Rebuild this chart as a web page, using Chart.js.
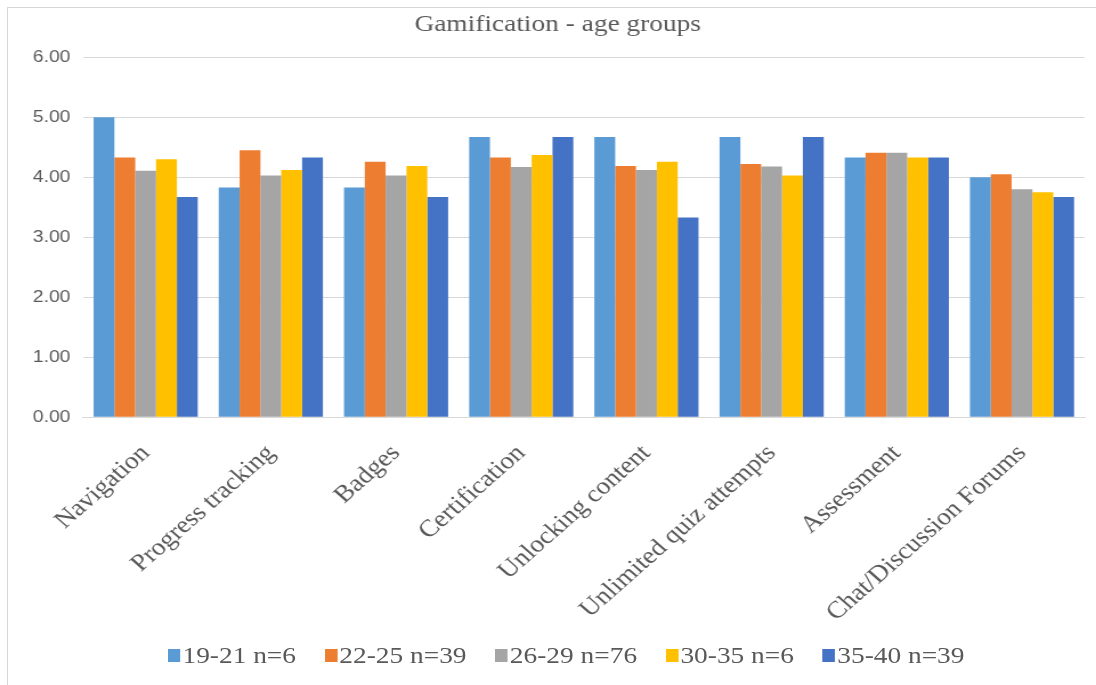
<!DOCTYPE html>
<html>
<head>
<meta charset="utf-8">
<script src="https://cdn.jsdelivr.net/npm/chart.js@4/dist/chart.umd.min.js"></script>
<style>
  html, body { margin: 0; padding: 0; background: #ffffff; }
  body { width: 1096px; height: 685px; overflow: hidden; position: relative; }
  #frame {
    position: absolute; left: 7px; top: 7px; width: 1200px; height: 800px;
    border-top: 1px solid #d6d6d6; border-left: 1px solid #d6d6d6;
  }
  #stage {
    position: absolute; left: 0; top: 0; width: 961px; height: 685px;
    transform: scaleX(1.1405); transform-origin: 0 0;
  }
  #chart { display: block; }
  #legend {
    position: absolute; left: 147px; top: 641px; height: 28px;
    display: flex; align-items: center; gap: 25px;
    font-family: "Liberation Serif", "Times New Roman", serif; font-size: 24px; color: #595959;
    white-space: nowrap;
  }
  #legend .item { display: flex; align-items: center; }
  #legend .box { width: 11px; height: 13px; margin-right: 2px; }
</style>
</head>
<body>
<div id="frame"></div>
<div id="stage">
  <canvas id="chart" width="961" height="685"></canvas>
  <div id="legend"></div>
</div>
<script>
// Feature categories
const categories = [
  "Navigation", "Progress tracking", "Badges", "Certification",
  "Unlocking content", "Unlimited quiz attempts", "Assessment", "Chat/Discussion Forums"
];

// Age group names
const groupNames = ["19-21 n=6", "22-25 n=39", "26-29 n=76", "30-35 n=6", "35-40 n=39"];

// Mean scores per age group, one value per category
const age19to21 = [5.00, 3.83, 3.83, 4.67, 4.67, 4.67, 4.33, 4.00];
const age22to25 = [4.33, 4.45, 4.26, 4.33, 4.19, 4.22, 4.41, 4.05];
const age26to29 = [4.11, 4.03, 4.03, 4.17, 4.12, 4.18, 4.41, 3.80];
const age30to35 = [4.30, 4.12, 4.19, 4.37, 4.26, 4.03, 4.33, 3.75];
const age35to40 = [3.67, 4.33, 3.67, 4.67, 3.33, 4.67, 4.33, 3.67];

// Value axis ticks
const yTicks = [0, 1, 2, 3, 4, 5, 6];

const seriesValues = [age19to21, age22to25, age26to29, age30to35, age35to40];
const seriesColors = ["#5B9BD5", "#ED7D31", "#A5A5A5", "#FFC000", "#4472C4"];

const serif = "'Liberation Serif', 'Times New Roman', serif";
const textColor = "#595959";

const datasets = groupNames.map((name, i) => ({
  label: name,
  data: seriesValues[i],
  backgroundColor: seriesColors[i],
  borderWidth: 0,
  barPercentage: 1.0,
  categoryPercentage: 0.832
}));

new Chart(document.getElementById("chart"), {
  type: "bar",
  data: { labels: categories, datasets },
  options: {
    responsive: false,
    animation: false,
    layout: { padding: { left: 27, right: 10, top: 0, bottom: 50 } },
    plugins: {
      legend: { display: false },
      tooltip: { enabled: false },
      title: {
        display: true,
        text: "Gamification - age groups",
        color: textColor,
        font: { family: serif, size: 24, weight: "normal" },
        padding: { top: 10, bottom: 18.5 }
      }
    },
    scales: {
      x: {
        grid: { display: false },
        border: { display: true, color: "#d9d9d9", width: 1 },
        ticks: {
          color: textColor,
          font: { family: serif, size: 24 },
          minRotation: 45,
          maxRotation: 45,
          autoSkip: false,
          padding: 14
        },
        afterFit: (scale) => { scale.height = 217.7; }
      },
      y: {
        min: 0,
        max: 6,
        afterBuildTicks: (scale) => { scale.ticks = yTicks.map(v => ({ value: v })); },
        grid: { color: "#d9d9d9", lineWidth: 1, drawTicks: false },
        border: { display: false },
        ticks: {
          color: textColor,
          font: { family: "'Liberation Sans', Arial, sans-serif", size: 17 },
          padding: 11,
          callback: (v) => Number(v).toFixed(2)
        },
        afterFit: (scale) => { scale.width = 45.8; }
      }
    }
  }
});

// Legend row built from the same series names and colours
const legend = document.getElementById("legend");
groupNames.forEach((name, i) => {
  const item = document.createElement("div");
  item.className = "item";
  const box = document.createElement("span");
  box.className = "box";
  box.style.background = seriesColors[i];
  const label = document.createElement("span");
  label.textContent = name;
  item.appendChild(box);
  item.appendChild(label);
  legend.appendChild(item);
});
</script>
</body>
</html>
